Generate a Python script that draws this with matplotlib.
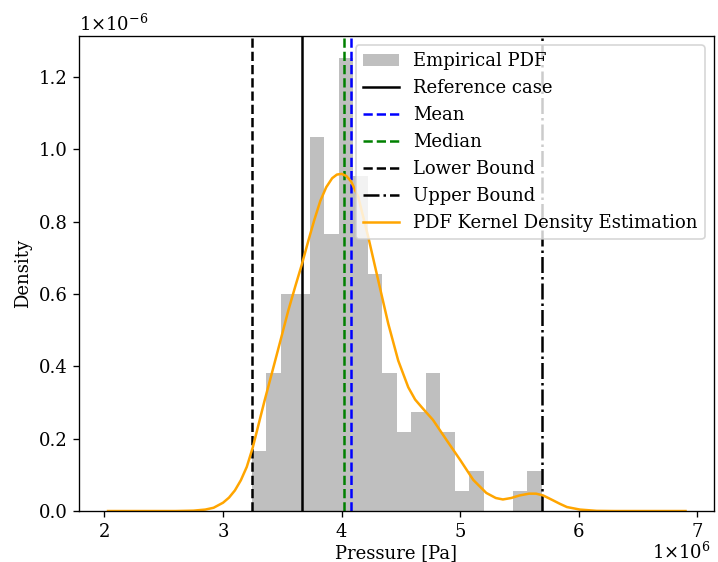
import matplotlib
matplotlib.use('Agg')
import matplotlib.pyplot as plt
import matplotlib.ticker as ticker
import matplotlib.transforms as mtransforms
import numpy as np

plt.rcParams['font.family'] = ['DejaVu Serif']
plt.rcParams['mathtext.fontset'] = 'dejavuserif'
plt.rcParams['font.size'] = 10.8

# 境界値 [Pa]
lower_bound = 3.241e6
upper_bound = 5.686e6
reference_case = 3.663e6
median_value = 4.019e6
mean_value = 4.081e6

# ヒストグラム (20 bins, density x1e-6)
n_bins = 20
hist_density = [0.167, 0.382, 0.600, 0.600, 1.033, 0.766, 1.252, 0.926, 0.654, 0.382,
                0.219, 0.274, 0.382, 0.219, 0.056, 0.111, 0.0, 0.0, 0.056, 0.111]

# KDE curve (x in 1e6 Pa, y in 1e-6)
kde_x = [2.03, 2.40, 2.60, 2.75, 2.85, 2.92, 3.00, 3.05, 3.10, 3.15, 3.20, 3.25, 3.30,
         3.35, 3.41, 3.48, 3.55, 3.61, 3.663, 3.72, 3.77, 3.82, 3.87, 3.92, 3.96, 4.00,
         4.04, 4.08, 4.14, 4.225, 4.309, 4.393, 4.477, 4.562, 4.62, 4.675, 4.77, 4.885,
         5.00, 5.11, 5.22, 5.30, 5.36, 5.43, 5.50, 5.58, 5.64, 5.70, 5.78, 5.84, 5.90,
         6.01, 6.15, 6.30, 6.90]
kde_y = [0.0, 0.0, 0.0, 0.001, 0.004, 0.009, 0.023, 0.037, 0.057, 0.085, 0.122, 0.175, 0.24,
         0.305, 0.379, 0.466, 0.554, 0.622, 0.680, 0.748, 0.805, 0.857, 0.895, 0.920, 0.930,
         0.932, 0.926, 0.911, 0.868, 0.757, 0.637, 0.518, 0.416, 0.342, 0.308, 0.287, 0.252,
         0.196, 0.141, 0.086, 0.050, 0.036, 0.032, 0.036, 0.043, 0.048, 0.048, 0.043, 0.030,
         0.020, 0.011, 0.004, 0.0005, 0.0, 0.0]


class OneTimesFormatter(ticker.ScalarFormatter):
    def get_offset(self):
        if self.orderOfMagnitude == 0:
            return ''
        return r'$\mathdefault{1{\times}10^{%d}}$' % self.orderOfMagnitude


fig = plt.figure(figsize=(718 / 120, 562 / 120), dpi=120)
ax = fig.add_axes([0.110, 0.0907, 0.8844, 0.8452])

edges = np.linspace(lower_bound, upper_bound, n_bins + 1)
ax.hist(edges[:-1], bins=edges, weights=np.array(hist_density) * 1e-6,
        color='gray', alpha=0.5, label='Empirical PDF')

ax.axvline(reference_case, color='black', linestyle='-', label='Reference case')
ax.axvline(mean_value, color='blue', linestyle='--', label='Mean')
ax.axvline(median_value, color='green', linestyle='--', label='Median')
ax.axvline(lower_bound, color='black', linestyle='--', label='Lower Bound')
ax.axvline(upper_bound, color='black', linestyle='-.', label='Upper Bound')

ax.plot(np.array(kde_x) * 1e6, np.array(kde_y) * 1e-6, color='orange',
        label='PDF Kernel Density Estimation')

ax.set_xlim(1.785e6, 7.14e6)
ax.set_ylim(0, 1.313e-6)
ax.xaxis.set_major_formatter(OneTimesFormatter())
ax.yaxis.set_major_formatter(OneTimesFormatter())
ax.set_xlabel('Pressure [Pa]', labelpad=2)
ax.set_ylabel('Density')
ax.legend(loc='upper right')

# x の offset text を少し上へ (下端で切れないように)
off = ax.xaxis.get_offset_text()
off.set_transform(off.get_transform()
                  + mtransforms.ScaledTranslation(-2 / 72, 2.2 / 72, fig.dpi_scale_trans))

fig.savefig('out.png', dpi=120)
